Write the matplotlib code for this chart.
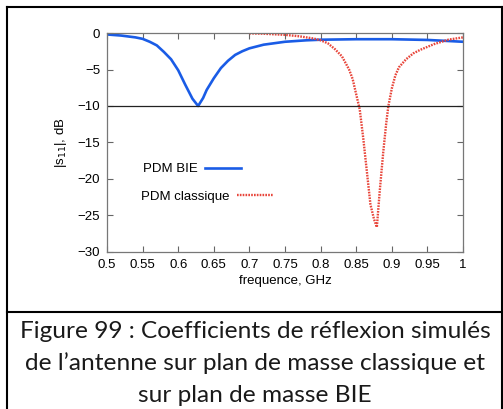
import matplotlib.pyplot as plt
from matplotlib.lines import Line2D

freq_bie = [0.50, 0.52, 0.54, 0.55, 0.56, 0.57, 0.58, 0.59, 0.60, 0.61, 0.62, 0.628,
            0.635, 0.64, 0.65, 0.66, 0.67, 0.68, 0.69, 0.70, 0.72, 0.75, 0.78, 0.80,
            0.85, 0.90, 0.95, 1.00]
s11_bie = [-0.2, -0.35, -0.6, -0.8, -1.2, -1.7, -2.6, -3.6, -5.1, -7.1, -9.0, -10.0,
           -8.9, -7.8, -6.2, -4.8, -3.8, -3.0, -2.5, -2.1, -1.6, -1.2, -1.0, -0.92,
           -0.85, -0.85, -0.95, -1.2]

freq_classic = [0.70, 0.72, 0.75, 0.77, 0.79, 0.80, 0.81, 0.82, 0.83, 0.84, 0.845, 0.85,
                0.855, 0.86, 0.865, 0.87, 0.875, 0.879, 0.883, 0.888, 0.892, 0.895, 0.90,
                0.905, 0.91, 0.92, 0.93, 0.94, 0.96, 0.98, 1.00]
s11_classic = [-0.05, -0.1, -0.25, -0.45, -0.75, -1.0, -1.4, -2.2, -3.2, -5.0, -6.3, -8.4,
               -10.5, -14.5, -19.0, -23.5, -25.5, -26.6, -21.7, -16.3, -12.5, -10.1, -7.6,
               -5.8, -4.7, -3.6, -2.8, -2.3, -1.5, -0.9, -0.6]

x_ticks = [0.5, 0.55, 0.6, 0.65, 0.7, 0.75, 0.8, 0.85, 0.9, 0.95, 1.0]
x_labels = ['0.5', '0.55', '0.6', '0.65', '0.7', '0.75', '0.8', '0.85', '0.9', '0.95', '1']
y_ticks = [0, -5, -10, -15, -20, -25, -30]

caption = ["Figure 99 : Coefficients de réflexion simulés",
           "de l\u2019antenne sur plan de masse classique et",
           "sur plan de masse BIE"]

plt.rcParams['font.family'] = ['Liberation Sans', 'DejaVu Sans']

fig = plt.figure(figsize=(5.03, 4.09), dpi=100)
ax = fig.add_axes([0.2127, 0.3839, 0.7078, 0.5354])

blue, = ax.plot(freq_bie, s11_bie, color='#1a5ce6', lw=1.9)
red, = ax.plot(freq_classic, s11_classic, color='#e8453a', lw=1.7, linestyle=(0, (0.7, 0.5)))
ax.axhline(-10, color='#222222', lw=0.9)

ax.set_xlim(0.5, 1.0)
ax.set_ylim(-30, 0)
ax.set_xticks(x_ticks)
ax.set_xticklabels(x_labels)
ax.set_yticks(y_ticks)
ax.tick_params(direction='in', top=True, right=True, length=4, width=0.8,
               color='#666666', labelsize=9.5, pad=5)
for s in ax.spines.values():
    s.set_color('#777777')
    s.set_linewidth(0.9)

ax.set_xlabel('frequence, GHz', fontsize=9.5, labelpad=3)
ax.set_ylabel(r'|s$_{11}$|, dB', fontsize=9.5, labelpad=6)

leg1 = ax.legend([blue], ['PDM BIE'], markerfirst=False, frameon=False, fontsize=9.5,
                 handlelength=2.7, handletextpad=0.6, loc='upper left',
                 bbox_to_anchor=(0.085, 0.43), borderaxespad=0)
ax.add_artist(leg1)
ax.legend([red], ['PDM classique'], markerfirst=False, frameon=False, fontsize=9.5,
          handlelength=2.7, handletextpad=0.6, loc='upper left',
          bbox_to_anchor=(0.08, 0.305), borderaxespad=0)

# frame of the figure box and caption
W, H = 503, 409
def fline(x0, y0, x1, y1, lw=1.5):
    fig.add_artist(Line2D([x0 / W, x1 / W], [1 - y0 / H, 1 - y1 / H], color='black', lw=lw))

fline(7, 7, 503, 7)
fline(7, 7, 7, 409)
fline(502, 7, 502, 409)
fline(7, 312, 503, 312)

for i, line in enumerate(caption):
    fig.text(255 / W, 1 - (332 + 31.5 * i) / H, line, ha='center', va='center',
             fontsize=17.6, family=['Lato', 'DejaVu Sans'], color='#1a1a1a')

fig.savefig('out.png', dpi=100)
